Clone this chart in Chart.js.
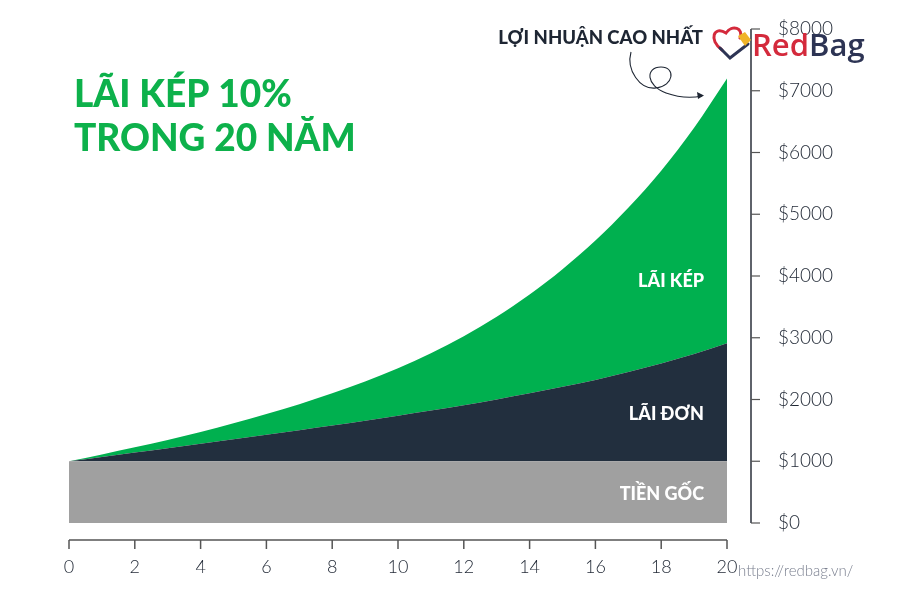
<!DOCTYPE html>
<html>
<head>
<meta charset="utf-8">
<script src="https://cdn.jsdelivr.net/npm/chart.js@4.4.1/dist/chart.umd.min.js"></script>
<style>
  html, body { margin: 0; padding: 0; background: #fff; }
  #wrap { width: 900px; height: 600px; }
</style>
</head>
<body>
<div id="wrap"><canvas id="chart" width="900" height="600"></canvas></div>
<script>
// ---------- Data ----------
const years = [0, 1, 2, 3, 4, 5, 6, 7, 8, 9, 10, 11, 12, 13, 14, 15, 16, 17, 18, 19, 20];
const principal = [1000, 1000, 1000, 1000, 1000, 1000, 1000, 1000, 1000, 1000, 1000,
                   1000, 1000, 1000, 1000, 1000, 1000, 1000, 1000, 1000, 1000];
const simpleTotal = [1000, 1070, 1140, 1211, 1283, 1355, 1428, 1502, 1577, 1655, 1736,
                     1820, 1908, 2001, 2100, 2205, 2317, 2445, 2582, 2735, 2910];
const compoundTotal = [1000, 1110, 1225, 1345, 1475, 1615, 1765, 1925, 2100, 2290, 2505,
                       2750, 3025, 3340, 3700, 4110, 4575, 5105, 5705, 6400, 7200];
const yTicks = [0, 1000, 2000, 3000, 4000, 5000, 6000, 7000, 8000];
const xTicks = [0, 2, 4, 6, 8, 10, 12, 14, 16, 18, 20];

const GREEN = '#00b04f';
const NAVY = '#222f3e';
const GREY = '#a0a0a0';

const toXY = arr => arr.map((v, i) => ({ x: years[i], y: v }));

// ---------- Axis lines, labels and decorations ----------
const decorPlugin = {
  id: 'decor',
  afterDraw(chart) {
    const { ctx, chartArea, scales } = chart;
    const xs = scales.x, ys = scales.y;
    ctx.save();

    // right value axis, set off from the plot
    const axX = chartArea.right + 24;
    ctx.strokeStyle = '#2a2f3a';
    ctx.lineWidth = 1.5;
    ctx.beginPath();
    ctx.moveTo(axX, ys.getPixelForValue(8000));
    ctx.lineTo(axX, ys.getPixelForValue(0));
    ctx.stroke();
    ctx.strokeStyle = '#555';
    ctx.lineWidth = 1.2;
    yTicks.forEach(v => {
      const y = ys.getPixelForValue(v);
      ctx.beginPath();
      ctx.moveTo(axX, y);
      ctx.lineTo(axX + 9, y);
      ctx.stroke();
    });

    // bottom year axis, below the plot
    const axY = chartArea.bottom + 17;
    ctx.strokeStyle = '#555';
    ctx.lineWidth = 1.5;
    ctx.beginPath();
    ctx.moveTo(xs.getPixelForValue(0), axY);
    ctx.lineTo(xs.getPixelForValue(20), axY);
    ctx.stroke();
    xTicks.forEach(v => {
      const x = xs.getPixelForValue(v);
      ctx.beginPath();
      ctx.moveTo(x, axY);
      ctx.lineTo(x, axY + 9);
      ctx.stroke();
    });

    // title
    ctx.fillStyle = '#0db14b';
    ctx.font = '900 37px Lato';
    ctx.textBaseline = 'alphabetic';
    ctx.textAlign = 'left';
    ctx.fillText('LÃI KÉP 10%', 74, 107);
    ctx.fillText('TRONG 20 NĂM', 74, 151);

    // area labels
    ctx.fillStyle = '#ffffff';
    ctx.font = '900 18px Lato';
    ctx.textAlign = 'right';
    ctx.fillText('LÃI KÉP', 704, 287);
    ctx.fillText('LÃI ĐƠN', 704, 420);
    ctx.fillText('TIỀN GỐC', 704, 500);

    // peak note
    ctx.fillStyle = '#1e2633';
    ctx.font = '900 18.5px Lato';
    ctx.fillText('LỢI NHUẬN CAO NHẤT', 703, 44);

    // curly arrow
    ctx.strokeStyle = '#1e2633';
    ctx.lineWidth = 1.1;
    ctx.beginPath();
    ctx.moveTo(631, 52);
    ctx.bezierCurveTo(626, 70, 640, 90, 656, 88);
    ctx.bezierCurveTo(674, 86, 676, 67, 661, 67);
    ctx.bezierCurveTo(645, 67, 646, 86, 666, 93);
    ctx.bezierCurveTo(680, 98, 692, 98, 702, 96);
    ctx.stroke();
    ctx.fillStyle = '#1e2633';
    ctx.beginPath();
    ctx.moveTo(704, 95.5);
    ctx.lineTo(697, 92);
    ctx.lineTo(698, 99);
    ctx.closePath();
    ctx.fill();

    // logo
    ctx.lineWidth = 3;
    ctx.lineCap = 'round';
    ctx.strokeStyle = '#d42a3c';
    ctx.beginPath();
    ctx.moveTo(722, 50);
    ctx.bezierCurveTo(708, 40, 714, 25, 726, 33);
    ctx.bezierCurveTo(732, 24, 744, 28, 740, 38);
    ctx.stroke();
    ctx.strokeStyle = '#2d3454';
    ctx.beginPath();
    ctx.moveTo(720, 48);
    ctx.lineTo(730, 58);
    ctx.lineTo(748, 44);
    ctx.stroke();
    ctx.fillStyle = '#f0b429';
    ctx.beginPath();
    ctx.moveTo(738, 36);
    ctx.lineTo(745, 32);
    ctx.lineTo(751, 40);
    ctx.lineTo(745, 46);
    ctx.closePath();
    ctx.fill();
    ctx.font = '600 31px "Open Sans"';
    ctx.textAlign = 'left';
    ctx.fillStyle = '#d42a3c';
    ctx.fillText('Red', 752, 56);
    const w = ctx.measureText('Red').width;
    ctx.fillStyle = '#2d3454';
    ctx.fillText('Bag', 752 + w, 56);

    // url
    ctx.fillStyle = '#7b8090';
    ctx.font = '300 15px Lato';
    ctx.fillText('https://redbag.vn/', 738, 576);

    ctx.restore();
  }
};

const ctx = document.getElementById('chart');
new Chart(ctx, {
  type: 'line',
  data: {
    datasets: [
      {
        label: 'TIỀN GỐC',
        data: toXY(principal),
        backgroundColor: GREY,
        borderWidth: 0,
        pointRadius: 0,
        fill: 'origin'
      },
      {
        label: 'LÃI ĐƠN',
        data: toXY(simpleTotal),
        backgroundColor: NAVY,
        borderWidth: 0,
        pointRadius: 0,
        cubicInterpolationMode: 'monotone',
        fill: '-1'
      },
      {
        label: 'LÃI KÉP',
        data: toXY(compoundTotal),
        backgroundColor: GREEN,
        borderWidth: 0,
        pointRadius: 0,
        cubicInterpolationMode: 'monotone',
        fill: '-1'
      }
    ]
  },
  options: {
    responsive: false,
    animation: false,
    layout: { padding: { left: 69, top: 29, right: 0, bottom: 0 } },
    plugins: {
      legend: { display: false },
      tooltip: { enabled: false }
    },
    scales: {
      x: {
        type: 'linear',
        min: 0,
        max: 20,
        afterFit: s => { s.height = 77; },
        // tickLength only pushes the labels down; marks are drawn by the plugin
        grid: { display: false, drawTicks: true, tickLength: 33 },
        border: { display: false },
        ticks: {
          stepSize: 2,
          padding: 0,
          maxRotation: 0,
          color: '#1e2633',
          font: { family: 'Lato', size: 18, weight: '300' }
        }
      },
      y: {
        position: 'right',
        min: 0,
        max: 8000,
        afterFit: s => { s.width = 173; },
        grid: { display: false, drawTicks: true, tickLength: 51 },
        border: { display: false },
        ticks: {
          stepSize: 1000,
          padding: 0,
          color: '#1e2633',
          font: { family: 'Lato', size: 19, weight: '300' },
          callback: v => '$' + v
        }
      }
    }
  },
  plugins: [decorPlugin]
});
</script>
</body>
</html>
